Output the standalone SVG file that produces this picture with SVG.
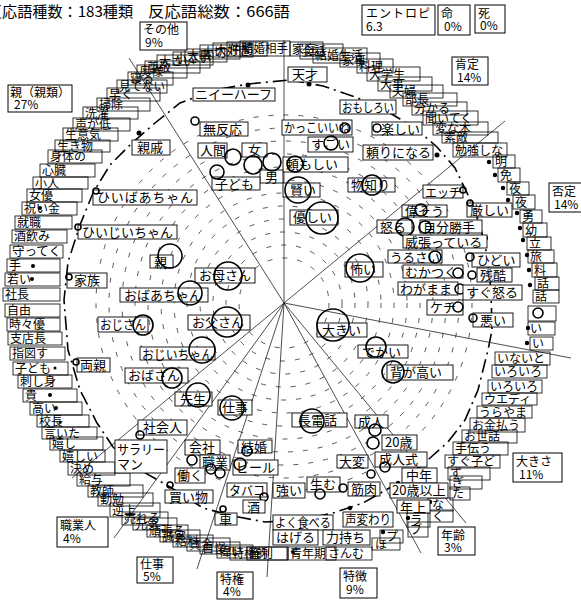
<svg xmlns="http://www.w3.org/2000/svg" width="581" height="603" viewBox="0 0 581 603">
<style>
.t{font-family:"Noto Sans CJK JP","Noto Sans",sans-serif;font-size:13px;fill:#000}
.s{font-size:12px}
.rb{fill:none;stroke:#000;stroke-width:0.8}
.ib{fill:#fff;stroke:#000;stroke-width:0.9}
.cb{fill:#fff;stroke:#000;stroke-width:1}
.mk{fill:none;stroke:#000;stroke-width:1.6}
.dt{fill:#000}
.hz{fill:none;stroke:#444;stroke-width:0.9;stroke-dasharray:5 10}
.rl{stroke:#222;stroke-width:0.8;fill:none}
.dc{fill:none;stroke:#000;stroke-width:1.6;stroke-dasharray:14 5 2 5}
</style>
<rect width="581" height="603" fill="#fff"/>
<text class="t" x="-13" y="17" textLength="146" lengthAdjust="spacingAndGlyphs" style="font-size:15px">反応語種数：183種類</text>
<text class="t" x="148" y="17" textLength="142" lengthAdjust="spacingAndGlyphs" style="font-size:15px">反応語総数：666語</text>

<g id="hatching">
<circle class="hz" cx="284" cy="303" r="45"/>
<circle class="hz" cx="284" cy="303" r="58"/>
<circle class="hz" cx="284" cy="303" r="71"/>
<circle class="hz" cx="284" cy="303" r="84"/>
<circle class="hz" cx="284" cy="303" r="97"/>
<circle class="hz" cx="284" cy="303" r="110"/>
<circle class="hz" cx="284" cy="303" r="123"/>
<circle class="hz" cx="284" cy="303" r="136"/>
<circle class="hz" cx="284" cy="303" r="149"/>
<circle class="hz" cx="284" cy="303" r="162"/>
<circle class="hz" cx="284" cy="303" r="175"/>
<circle class="hz" cx="284" cy="303" r="188"/>
</g>

<g id="connectors">
<line class="rl" x1="284" y1="303" x2="284" y2="40"/>
<line class="rl" x1="284" y1="303" x2="505" y2="121"/>
<line class="rl" x1="284" y1="303" x2="571" y2="358"/>
<line class="rl" x1="284" y1="303" x2="466" y2="523"/>
<line class="rl" x1="284" y1="303" x2="421" y2="553"/>
<line class="rl" x1="284" y1="303" x2="267" y2="577"/>
<line class="rl" x1="284" y1="303" x2="197" y2="569"/>
<line class="rl" x1="284" y1="303" x2="114" y2="538"/>
<line class="rl" x1="284" y1="303" x2="72" y2="478"/>
<line class="rl" x1="284" y1="303" x2="129" y2="58"/>
<polyline class="dc" points="290,80 323,86 358,98 390,113 415,128 437,147 455,168 468,195 480,225 487,255 491,290 492,330 488,350 478,390 465,420 448,442 430,458 400,482 363,503 333,513 300,520 265,522 233,516 203,508 170,487 140,470 113,447 97,423 80,390 68,350 64,300 68,262 80,225 93,193 110,165 132,143 155,123 180,103 215,90 248,84 290,80"/>
</g>

<g id="ring" class="t s">
<g id="r01"><rect class="rb" x="288" y="547" width="48" height="13"/><text class="t s" x="290" y="558">青年期</text></g>
<g id="r02"><rect class="rb" x="326" y="547" width="46" height="13"/><text class="t s" x="328" y="558">さんむ</text></g>
<g id="r03"><rect class="rb" x="230" y="547" width="58" height="13"/><text class="t s" x="232" y="558">特権的</text></g>
<g id="r04"><rect class="rb" x="247" y="547" width="40" height="13"/><text class="t s" x="249" y="558">権利</text></g>
<g id="r05"><rect class="rb" x="217" y="545" width="36" height="13"/><text class="t s" x="219" y="556">偉い</text></g>
<g id="r06"><rect class="rb" x="200" y="542" width="40" height="12"/><text class="t s" x="202" y="553">自慢</text></g>
<g id="r07"><rect class="rb" x="187" y="538" width="43" height="13"/><text class="t s" x="189" y="549">賃金</text></g>
<g id="r08"><rect class="rb" x="173" y="535" width="40" height="12"/><text class="t s" x="175" y="546">給料</text></g>
<g id="r09"><rect class="rb" x="160" y="530" width="40" height="12"/><text class="t s" x="162" y="541">誠実</text></g>
<g id="r10"><rect class="rb" x="147" y="525" width="41" height="12"/><text class="t s" x="149" y="536">頑張る</text></g>
<g id="r11"><rect class="rb" x="133" y="518" width="44" height="12"/><text class="t s" x="135" y="529">元気</text></g>
<g id="r12"><rect class="rb" x="122" y="512" width="46" height="13"/><text class="t s" x="124" y="523">売れる</text></g>
<g id="r13"><rect class="rb" x="110" y="503" width="50" height="14"/><text class="t s" x="112" y="515">逆上</text></g>
<g id="r14"><rect class="rb" x="98" y="493" width="55" height="13"/><text class="t s" x="100" y="504">勤勉</text></g>
<g id="r15"><rect class="rb" x="88" y="485" width="55" height="12"/><text class="t s" x="90" y="496">教師</text></g>
<g id="r16"><rect class="rb" x="77" y="473" width="53" height="13"/><text class="t s" x="79" y="484">給与</text></g>
<g id="r17"><rect class="rb" x="68" y="462" width="47" height="13"/><text class="t s" x="70" y="473">決め</text></g>
<g id="r18"><rect class="rb" x="60" y="450" width="45" height="12"/><text class="t s" x="62" y="461">嬉しい</text></g>
<g id="r19"><rect class="rb" x="50" y="437" width="53" height="13"/><text class="t s" x="52" y="448">嬉し</text></g>
<g id="r20"><rect class="rb" x="42" y="427" width="55" height="12"/><text class="t s" x="44" y="438">言いた</text></g>
<g id="r21"><rect class="rb" x="37" y="415" width="52" height="12"/><text class="t s" x="39" y="426">校長</text></g>
<g id="r22"><rect class="rb" x="30" y="402" width="52" height="13"/><text class="t s" x="32" y="413">高い</text></g>
<g id="r23"><rect class="rb" x="23" y="389" width="54" height="13"/><text class="t s" x="25" y="400">貴</text></g>
<g id="r24"><rect class="rb" x="18" y="375" width="54" height="13"/><text class="t s" x="20" y="386">刺し身</text></g>
<g id="r25"><rect class="rb" x="13" y="362" width="55" height="13"/><text class="t s" x="15" y="373">子ども</text></g>
<g id="r26"><rect class="rb" x="10" y="347" width="55" height="13"/><text class="t s" x="12" y="358">指図す</text></g>
<g id="r27"><rect class="rb" x="8" y="332" width="54" height="13"/><text class="t s" x="10" y="343">支店長</text></g>
<g id="r28"><rect class="rb" x="7" y="318" width="53" height="13"/><text class="t s" x="9" y="329">時々優</text></g>
<g id="r29"><rect class="rb" x="5" y="304" width="55" height="13"/><text class="t s" x="7" y="315">自由</text></g>
<g id="r30"><rect class="rb" x="3" y="288" width="57" height="13"/><text class="t s" x="5" y="299">社長</text></g>
<g id="r31"><rect class="rb" x="5" y="273" width="55" height="13"/><text class="t s" x="7" y="284">若い</text></g>
<g id="r32"><rect class="rb" x="7" y="259" width="53" height="13"/><text class="t s" x="9" y="270">手</text></g>
<g id="r33"><rect class="rb" x="10" y="245" width="53" height="13"/><text class="t s" x="12" y="256" textLength="49" lengthAdjust="spacingAndGlyphs">守ってく</text></g>
<g id="r34"><rect class="rb" x="12" y="230" width="55" height="13"/><text class="t s" x="14" y="241">酒飲み</text></g>
<g id="r35"><rect class="rb" x="15" y="216" width="57" height="13"/><text class="t s" x="17" y="227">就職</text></g>
<g id="r36"><rect class="rb" x="22" y="202" width="55" height="13"/><text class="t s" x="24" y="213">祝い金</text></g>
<g id="r37"><rect class="rb" x="27" y="189" width="55" height="13"/><text class="t s" x="29" y="200">女優</text></g>
<g id="r38"><rect class="rb" x="33" y="177" width="55" height="12"/><text class="t s" x="35" y="188">小人</text></g>
<g id="r39"><rect class="rb" x="40" y="164" width="55" height="13"/><text class="t s" x="42" y="175">心臓</text></g>
<g id="r40"><rect class="rb" x="48" y="150" width="54" height="13"/><text class="t s" x="50" y="161">身体の</text></g>
<g id="r41"><rect class="rb" x="55" y="140" width="55" height="12"/><text class="t s" x="57" y="151">生き物</text></g>
<g id="r42"><rect class="rb" x="63" y="128" width="55" height="13"/><text class="t s" x="65" y="139">生意気</text></g>
<g id="r43"><rect class="rb" x="73" y="118" width="57" height="13"/><text class="t s" x="75" y="129">声が低</text></g>
<g id="r44"><rect class="rb" x="83" y="107" width="55" height="12"/><text class="t s" x="85" y="118">洗濯</text></g>
<g id="r45"><rect class="rb" x="97" y="98" width="53" height="13"/><text class="t s" x="99" y="109">掃除</text></g>
<g id="r46"><rect class="rb" x="107" y="88" width="53" height="13"/><text class="t s" x="109" y="99">早く</text></g>
<g id="r47"><rect class="rb" x="117" y="80" width="50" height="13"/><text class="t s" x="119" y="91" textLength="46" lengthAdjust="spacingAndGlyphs">見てない</text></g>
<g id="r48"><rect class="rb" x="128" y="72" width="45" height="13"/><text class="t s" x="130" y="83">寝る</text></g>
<g id="r49"><rect class="rb" x="137" y="65" width="50" height="13"/><text class="t s" x="139" y="76">奥様</text></g>
<g id="r50"><rect class="rb" x="145" y="61" width="55" height="12"/><text class="t s" x="147" y="72">尊敬</text></g>
<g id="r51"><rect class="rb" x="157" y="55" width="53" height="13"/><text class="t s" x="159" y="66">大さい</text></g>
<g id="r52"><rect class="rb" x="173" y="52" width="40" height="13"/><text class="t s" x="175" y="63">小さい</text></g>
<g id="r53"><rect class="rb" x="185" y="49" width="42" height="13"/><text class="t s" x="187" y="60">大事</text></g>
<g id="r54"><rect class="rb" x="200" y="45" width="40" height="14"/><text class="t s" x="202" y="57">大切</text></g>
<g id="r55"><rect class="rb" x="213" y="43" width="40" height="14"/><text class="t s" x="215" y="55">大好き</text></g>
<g id="r56"><rect class="rb" x="227" y="42" width="40" height="14"/><text class="t s" x="229" y="54">仲間</text></g>
<g id="r57"><rect class="rb" x="240" y="41" width="50" height="15"/><text class="t s" x="242" y="53" textLength="46" lengthAdjust="spacingAndGlyphs">結婚相手</text></g>
<g id="r58"><rect class="rb" x="290" y="42" width="33" height="14"/><text class="t s" x="292" y="54">家庭</text></g>
<g id="r59"><rect class="rb" x="300" y="44" width="43" height="15"/><text class="t s" x="302" y="56">会話</text></g>
<g id="r60"><rect class="rb" x="313" y="48" width="54" height="15"/><text class="t s" x="315" y="60">結婚生活</text></g>
<g id="r61"><rect class="rb" x="340" y="53" width="40" height="14"/><text class="t s" x="342" y="65">家事</text></g>
<g id="r62"><rect class="rb" x="357" y="59" width="36" height="14"/><text class="t s" x="359" y="71">料理</text></g>
<g id="r63"><rect class="rb" x="367" y="67" width="53" height="14"/><text class="t s" x="369" y="79">大学生</text></g>
<g id="r64"><rect class="rb" x="378" y="77" width="54" height="14"/><text class="t s" x="380" y="89">大事</text></g>
<g id="r65"><rect class="rb" x="390" y="85" width="53" height="13"/><text class="t s" x="392" y="96">夫婦</text></g>
<g id="r66"><rect class="rb" x="403" y="93" width="54" height="13"/><text class="t s" x="405" y="104">部長</text></g>
<g id="r67"><rect class="rb" x="412" y="102" width="55" height="13"/><text class="t s" x="414" y="113">分かる</text></g>
<g id="r68"><rect class="rb" x="423" y="111" width="55" height="14"/><text class="t s" x="425" y="123">聞いてく</text></g>
<g id="r69"><rect class="rb" x="433" y="122" width="55" height="13"/><text class="t s" x="435" y="133">変な本</text></g>
<g id="r70"><rect class="rb" x="442" y="132" width="56" height="11"/><text class="t s" x="444" y="142">素敵</text></g>
<g id="r71"><rect class="rb" x="453" y="143" width="54" height="14"/><text class="t s" x="455" y="155">勉強しな</text></g>
<g id="r72"><rect class="rb" x="493" y="155" width="22" height="13"/><text class="t s" x="495" y="166">明</text></g>
<g id="r73"><rect class="rb" x="498" y="168" width="22" height="14"/><text class="t s" x="500" y="180">免</text></g>
<g id="r74"><rect class="rb" x="507" y="182" width="22" height="13"/><text class="t s" x="509" y="193">夜</text></g>
<g id="r75"><rect class="rb" x="513" y="195" width="22" height="14"/><text class="t s" x="515" y="207">夜</text></g>
<g id="r76"><rect class="rb" x="520" y="210" width="22" height="13"/><text class="t s" x="522" y="221">勇</text></g>
<g id="r77"><rect class="rb" x="523" y="223" width="24" height="14"/><text class="t s" x="525" y="235">幼</text></g>
<g id="r78"><rect class="rb" x="527" y="237" width="24" height="13"/><text class="t s" x="529" y="248">立</text></g>
<g id="r79"><rect class="rb" x="528" y="250" width="26" height="13"/><text class="t s" x="530" y="261">旅</text></g>
<g id="r80"><rect class="rb" x="532" y="263" width="25" height="14"/><text class="t s" x="534" y="275">料</text></g>
<g id="r81"><rect class="rb" x="535" y="277" width="24" height="13"/><text class="t s" x="537" y="288">話</text></g>
<g id="r82"><rect class="rb" x="533" y="290" width="26" height="13"/><text class="t s" x="535" y="301">話</text></g>
<g id="r83"><rect class="rb" x="528" y="306" width="28" height="15"/><circle class="mk" cx="538" cy="313" r="5"/></g>
<g id="r84"><rect class="rb" x="528" y="322" width="27" height="13"/><text class="t s" x="530" y="333">い</text></g>
<g id="r85"><rect class="rb" x="530" y="337" width="23" height="13"/><text class="t s" x="532" y="348">い</text></g>
<g id="r86"><rect class="rb" x="495" y="352" width="55" height="13"/><text class="t s" x="497" y="363">いないと</text></g>
<g id="r87"><rect class="rb" x="492" y="365" width="55" height="13"/><text class="t s" x="494" y="376">いろいろ</text></g>
<g id="r88"><rect class="rb" x="488" y="380" width="54" height="13"/><text class="t s" x="490" y="391">いろいろ</text></g>
<g id="r89"><rect class="rb" x="482" y="393" width="55" height="12"/><text class="t s" x="484" y="404">ウエディ</text></g>
<g id="r90"><rect class="rb" x="477" y="406" width="55" height="12"/><text class="t s" x="479" y="417">うらやま</text></g>
<g id="r91"><rect class="rb" x="470" y="418" width="55" height="14"/><text class="t s" x="472" y="430">お金払う</text></g>
<g id="r92"><rect class="rb" x="462" y="430" width="55" height="13"/><text class="t s" x="464" y="441">お世話</text></g>
<g id="r93"><rect class="rb" x="453" y="442" width="55" height="13"/><text class="t s" x="455" y="453">手伝う</text></g>
<g id="r94"><rect class="rb" x="445" y="455" width="55" height="13"/><text class="t s" x="447" y="466">すぐ子ど</text></g>
<g id="r95"><rect class="rb" x="448" y="467" width="42" height="13"/><text class="t s" x="450" y="478">ず</text></g>
<g id="r96"><rect class="rb" x="450" y="476" width="32" height="13"/><text class="t s" x="452" y="487">ぎ</text></g>
<g id="r97"><rect class="rb" x="450" y="487" width="20" height="13"/><text class="t s" x="452" y="498">た</text></g>
<g id="r98"><rect class="rb" x="428" y="498" width="25" height="13"/><text class="t s" x="432" y="509">な</text></g>
<g id="r99"><rect class="rb" x="428" y="510" width="25" height="12"/><text class="t s" x="432" y="521">く</text></g>
<g id="r100"><rect class="rb" x="407" y="513" width="23" height="14"/><text class="t s" x="410" y="525">ラ</text></g>
<g id="r101"><rect class="rb" x="408" y="522" width="20" height="15"/><text class="t s" x="410" y="534">ブ</text></g>
<g id="r102"><rect class="rb" x="380" y="530" width="23" height="13"/><text class="t s" x="386" y="541">プ</text></g>
<g id="r103"><rect class="rb" x="372" y="538" width="28" height="12"/><text class="t s" x="375" y="549">ほ</text></g>
</g>

<g id="ring-dots">
<circle class="dt" cx="40" cy="208" r="2"/><circle class="dt" cx="33" cy="266" r="2"/><circle class="dt" cx="32" cy="279" r="2"/>
<circle class="dt" cx="55" cy="368" r="1.5"/><circle class="dt" cx="50" cy="395" r="2"/><circle class="dt" cx="56" cy="408" r="2"/>
<circle class="dt" cx="60" cy="422" r="1.5"/><circle class="dt" cx="489" cy="162" r="2.2"/><circle class="dt" cx="495" cy="175" r="2.2"/>
<circle class="dt" cx="503" cy="188" r="2.2"/><circle class="dt" cx="508" cy="200" r="2.2"/><circle class="dt" cx="517" cy="213" r="2.2"/>
<circle class="dt" cx="520" cy="228" r="2.2"/><circle class="dt" cx="523" cy="240" r="2.2"/><circle class="dt" cx="527" cy="255" r="2.2"/>
<circle class="dt" cx="529" cy="270" r="2.2"/><circle class="dt" cx="530" cy="285" r="2.2"/><circle class="dt" cx="528" cy="328" r="2.2"/>
<circle class="dt" cx="527" cy="343" r="2.2"/><circle class="dt" cx="430" cy="502" r="2.2"/><circle class="dt" cx="408" cy="518" r="2.2"/>
<circle class="dt" cx="383" cy="532" r="2.2"/><circle class="dt" cx="368" cy="538" r="2.2"/><circle class="dt" cx="350" cy="508" r="2.2"/>
<circle class="dt" cx="398" cy="483" r="2.2"/><circle class="dt" cx="248" cy="85" r="2.5"/><circle class="dt" cx="309" cy="84" r="2.5"/>
<circle class="dt" cx="437" cy="155" r="2.5"/><circle class="dt" cx="486" cy="238" r="2.2"/><circle class="dt" cx="293" cy="552" r="2"/>
</g>

<g id="inner">
<g id="w01"><rect class="ib" x="193" y="88" width="82" height="13"/><text class="t" x="195" y="99">ニイーハーフ</text></g>
<g id="w02"><rect class="ib" x="200" y="122" width="48" height="14"/><text class="t" x="203" y="134">無反応</text><circle class="mk" cx="195" cy="121" r="4"/></g>
<g id="w03"><rect class="ib" x="288" y="67" width="39" height="15"/><text class="t" x="292" y="79">天才</text></g>
<g id="w04"><rect class="ib" x="282" y="120" width="70" height="15"/><text class="t" x="284" y="132" textLength="66" lengthAdjust="spacingAndGlyphs">かっこいいね</text><circle class="mk" cx="345" cy="128" r="5"/></g>
<g id="w05"><rect class="ib" x="308" y="137" width="45" height="15"/><text class="t" x="311" y="149">すごい</text><circle class="mk" cx="331" cy="143" r="7"/></g>
<g id="w06"><rect class="ib" x="283" y="157" width="65" height="15"/><text class="t" x="286" y="169">頼もしい</text><circle class="mk" cx="295" cy="164" r="8"/></g>
<g id="w07"><rect class="ib" x="198" y="143" width="29" height="15"/><text class="t" x="200" y="155">人間</text></g>
<g id="w08"><rect class="ib" x="242" y="143" width="25" height="14"/><text class="t" x="248" y="155">女</text></g>
<g id="w09"><rect class="ib" x="260" y="170" width="23" height="13"/><text class="t" x="265" y="182">男</text></g>
<g id="w10"><rect class="ib" x="212" y="177" width="48" height="13"/><text class="t" x="215" y="189">子ども</text></g>
<g id="w10m"><circle class="mk" cx="233" cy="157" r="8"/><circle class="mk" cx="253" cy="165" r="9"/><circle class="mk" cx="272" cy="162" r="9"/><circle class="mk" cx="217" cy="172" r="7"/></g>
<g id="w11"><rect class="ib" x="132" y="140" width="38" height="15"/><text class="t" x="137" y="152">親戚</text><circle class="dt" cx="139" cy="133" r="2.5"/></g>
<g id="w12"><rect class="ib" x="93" y="190" width="104" height="15"/><text class="t" x="97" y="202" textLength="96" lengthAdjust="spacing">ひいばあちゃん</text><circle class="mk" cx="96" cy="191" r="3"/></g>
<g id="w13"><rect class="ib" x="78" y="225" width="99" height="14"/><text class="t" x="82" y="237">ひいじいちゃん</text><circle class="mk" cx="78" cy="227" r="3"/></g>
<g id="w14"><rect class="ib" x="150" y="255" width="23" height="13"/><text class="t" x="154" y="267">親</text><circle class="mk" cx="170" cy="256" r="12"/></g>
<g id="w15"><rect class="ib" x="195" y="268" width="60" height="15"/><text class="t" x="199" y="280">お母さん</text><circle class="mk" cx="228" cy="276" r="14"/></g>
<g id="w16"><rect class="ib" x="67" y="273" width="40" height="15"/><text class="t" x="74" y="285">家族</text><circle class="mk" cx="69" cy="277" r="3"/></g>
<g id="w17"><rect class="ib" x="120" y="288" width="88" height="14"/><text class="t" x="124" y="300">おばあちゃん</text><circle class="mk" cx="190" cy="293" r="12"/></g>
<g id="w18"><rect class="ib" x="98" y="317" width="50" height="15"/><text class="t" x="100" y="329" textLength="46" lengthAdjust="spacingAndGlyphs">おじさん</text><circle class="mk" cx="143" cy="325" r="10"/></g>
<g id="w19"><rect class="ib" x="188" y="315" width="62" height="15"/><text class="t" x="192" y="327">お父さん</text><circle class="mk" cx="227" cy="322" r="15"/></g>
<g id="w20"><rect class="ib" x="140" y="347" width="75" height="13"/><text class="t" x="142" y="359" textLength="71" lengthAdjust="spacingAndGlyphs">おじいちゃん</text><circle class="mk" cx="202" cy="350" r="13"/></g>
<g id="w21"><rect class="ib" x="77" y="358" width="33" height="14"/><text class="t" x="80" y="370">両親</text><circle class="mk" cx="76" cy="362" r="3"/></g>
<g id="w22"><rect class="ib" x="125" y="368" width="63" height="15"/><text class="t" x="128" y="380">おばさん</text><circle class="mk" cx="172" cy="378" r="10"/></g>
<g id="w23"><rect class="ib" x="175" y="392" width="37" height="14"/><text class="t" x="180" y="404">先生</text><circle class="mk" cx="198" cy="395" r="12"/></g>
<g id="w24"><rect class="ib" x="218" y="400" width="34" height="15"/><text class="t" x="222" y="412">仕事</text><circle class="mk" cx="232" cy="408" r="12"/></g>
<g id="w25"><rect class="ib" x="138" y="420" width="49" height="15"/><text class="t" x="143" y="432">社会人</text><circle class="mk" cx="140" cy="435" r="4"/></g>
<g id="w26"><rect class="ib" x="115" y="440" width="52" height="33"/><text class="t" x="117" y="454" textLength="48" lengthAdjust="spacingAndGlyphs">サラリー</text><text class="t" x="117" y="469">マン</text></g>
<g id="w27"><rect class="ib" x="185" y="440" width="35" height="15"/><text class="t" x="189" y="452">会社</text></g>
<g id="w28"><rect class="ib" x="238" y="440" width="34" height="13"/><text class="t" x="241" y="452">結婚</text><circle class="mk" cx="247" cy="451" r="5"/></g>
<g id="w29"><rect class="ib" x="200" y="455" width="30" height="15"/><text class="t" x="202" y="467">職業</text><circle class="mk" cx="192" cy="460" r="5"/><circle class="mk" cx="211" cy="469" r="5"/><circle class="mk" cx="220" cy="473" r="5"/></g>
<g id="w30"><rect class="ib" x="233" y="460" width="45" height="15"/><text class="t" x="236" y="472">ビール</text><circle class="mk" cx="240" cy="464" r="6"/></g>
<g id="w31"><rect class="ib" x="175" y="468" width="30" height="15"/><text class="t" x="177" y="480">働く</text></g>
<g id="w32"><rect class="ib" x="227" y="483" width="40" height="14"/><text class="t" x="229" y="495" textLength="36" lengthAdjust="spacingAndGlyphs">タバコ</text><circle class="mk" cx="264" cy="497" r="4"/></g>
<g id="w33"><rect class="ib" x="273" y="483" width="32" height="15"/><text class="t" x="276" y="495">強い</text></g>
<g id="w34"><rect class="ib" x="307" y="477" width="33" height="15"/><text class="t" x="310" y="489">生む</text><circle class="mk" cx="320" cy="494" r="5"/></g>
<g id="w35"><rect class="ib" x="348" y="482" width="32" height="14"/><text class="t" x="351" y="494">筋肉</text><circle class="mk" cx="343" cy="488" r="4"/></g>
<g id="w36"><rect class="ib" x="165" y="490" width="48" height="13"/><text class="t" x="169" y="502">買い物</text><circle class="mk" cx="170" cy="485" r="3"/></g>
<g id="w37"><rect class="ib" x="243" y="500" width="22" height="13"/><text class="t" x="247" y="512">酒</text></g>
<g id="w38"><rect class="ib" x="215" y="513" width="22" height="12"/><text class="t" x="219" y="524">車</text><circle class="mk" cx="223" cy="509" r="3"/></g>
<g id="w39"><rect class="ib" x="273" y="515" width="60" height="15"/><text class="t" x="275" y="527" textLength="56" lengthAdjust="spacingAndGlyphs">よく食べる</text></g>
<g id="w40"><rect class="ib" x="273" y="530" width="45" height="15"/><text class="t" x="276" y="542">はげる</text></g>
<g id="w41"><rect class="ib" x="323" y="530" width="47" height="15"/><text class="t" x="326" y="542">力持ち</text></g>
<g id="w42"><rect class="ib" x="343" y="512" width="50" height="15"/><text class="t" x="345" y="524" textLength="46" lengthAdjust="spacingAndGlyphs">声変わり</text></g>
<g id="w43"><rect class="ib" x="292" y="413" width="55" height="14"/><text class="t" x="298" y="425">長電話</text><circle class="mk" cx="312" cy="421" r="12"/></g>
<g id="w44"><rect class="ib" x="355" y="415" width="33" height="13"/><text class="t" x="358" y="427">成人</text><circle class="mk" cx="375" cy="430" r="6"/><circle class="mk" cx="373" cy="443" r="6"/></g>
<g id="w45"><rect class="ib" x="382" y="435" width="35" height="15"/><text class="t" x="385" y="447">20歳</text></g>
<g id="w46"><rect class="ib" x="337" y="455" width="31" height="13"/><text class="t" x="339" y="467">大変</text><circle class="mk" cx="371" cy="474" r="4"/></g>
<g id="w47"><rect class="ib" x="375" y="452" width="52" height="15"/><text class="t" x="379" y="464">成人式</text><circle class="mk" cx="385" cy="467" r="5"/></g>
<g id="w48"><rect class="ib" x="402" y="468" width="35" height="15"/><text class="t" x="406" y="480">中年</text></g>
<g id="w49"><rect class="ib" x="390" y="483" width="58" height="15"/><text class="t" x="392" y="495">20歳以上</text></g>
<g id="w50"><rect class="ib" x="397" y="500" width="33" height="13"/><text class="t" x="400" y="512">年上</text></g>
<g id="w51"><rect class="ib" x="317" y="323" width="50" height="14"/><text class="t" x="322" y="335">大きい</text><circle class="mk" cx="333" cy="325" r="16"/></g>
<g id="w52"><rect class="ib" x="358" y="345" width="50" height="13"/><text class="t" x="362" y="357">でかい</text><circle class="mk" cx="376" cy="347" r="10"/></g>
<g id="w53"><rect class="ib" x="387" y="365" width="66" height="15"/><text class="t" x="390" y="377">背が高い</text><circle class="mk" cx="393" cy="372" r="11"/></g>
<g id="w54"><rect class="ib" x="427" y="300" width="36" height="15"/><text class="t" x="430" y="312">ケチ</text><circle class="mk" cx="458" cy="307" r="5"/></g>
<g id="w55"><rect class="ib" x="473" y="313" width="40" height="14"/><text class="t" x="480" y="325">悪い</text><circle class="mk" cx="473" cy="318" r="4"/></g>
<g id="w56"><rect class="ib" x="363" y="145" width="70" height="15"/><text class="t" x="366" y="157">頼りになる</text></g>
<g id="w57"><rect class="ib" x="348" y="178" width="47" height="14"/><text class="t" x="351" y="190">物知り</text><circle class="mk" cx="372" cy="185" r="10"/></g>
<g id="w58"><rect class="ib" x="423" y="185" width="40" height="13"/><text class="t" x="425" y="197" textLength="36" lengthAdjust="spacingAndGlyphs">エッチ</text><circle class="mk" cx="463" cy="190" r="3"/></g>
<g id="w59"><rect class="ib" x="402" y="205" width="45" height="12"/><text class="t" x="405" y="216">偉そう</text><circle class="mk" cx="421" cy="210" r="6"/></g>
<g id="w60"><rect class="ib" x="467" y="203" width="45" height="14"/><text class="t" x="470" y="215">厳しい</text><circle class="mk" cx="470" cy="203" r="3"/></g>
<g id="w61"><rect class="ib" x="420" y="220" width="62" height="13"/><text class="t" x="423" y="232">自分勝手</text><circle class="mk" cx="425" cy="227" r="6"/></g>
<g id="w62"><rect class="ib" x="377" y="220" width="35" height="13"/><text class="t" x="380" y="232">怒る</text><circle class="mk" cx="405" cy="227" r="9"/></g>
<g id="w63"><rect class="ib" x="403" y="235" width="84" height="13"/><text class="t" x="405" y="247">威張っている</text></g>
<g id="w64"><rect class="ib" x="388" y="250" width="54" height="13"/><text class="t" x="390" y="262" textLength="50" lengthAdjust="spacingAndGlyphs">うるさい</text><circle class="mk" cx="435" cy="257" r="6"/></g>
<g id="w65"><rect class="ib" x="472" y="253" width="48" height="14"/><text class="t" x="477" y="265">ひどい</text><circle class="mk" cx="470" cy="257" r="4"/></g>
<g id="w66"><rect class="ib" x="345" y="262" width="38" height="15"/><text class="t" x="350" y="274">怖い</text><circle class="mk" cx="360" cy="268" r="14"/></g>
<g id="w67"><rect class="ib" x="403" y="265" width="60" height="13"/><text class="t" x="405" y="277">むかつく</text><circle class="mk" cx="458" cy="273" r="5"/></g>
<g id="w68"><rect class="ib" x="477" y="268" width="35" height="14"/><text class="t" x="480" y="280">残酷</text><circle class="mk" cx="472" cy="275" r="4"/></g>
<g id="w69"><rect class="ib" x="398" y="282" width="60" height="13"/><text class="t" x="400" y="294">わがまま</text><circle class="mk" cx="460" cy="289" r="5"/></g>
<g id="w70"><rect class="ib" x="463" y="285" width="59" height="15"/><text class="t" x="466" y="297">すぐ怒る</text></g>
<g id="w71"><rect class="ib" x="290" y="210" width="48" height="15"/><text class="t" x="293" y="222">優しい</text><circle class="mk" cx="322" cy="218" r="16"/></g>
<g id="w72"><rect class="ib" x="283" y="183" width="37" height="14"/><text class="t" x="290" y="195">賢い</text><circle class="mk" cx="298" cy="190" r="13"/></g>
<g id="w73"><rect class="ib" x="340" y="100" width="56" height="14"/><text class="t" x="342" y="112" textLength="52" lengthAdjust="spacingAndGlyphs">おもしろい</text></g>
<g id="w74"><rect class="ib" x="372" y="122" width="50" height="13"/><text class="t" x="381" y="134">楽しい</text><circle class="mk" cx="377" cy="128" r="4"/></g>
</g>

<g id="categories">
<g id="c-sonota"><rect class="cb" x="140" y="22" width="47" height="28"/><text class="t" x="143" y="34" style="font-size:12px">その他</text><text class="t" x="145" y="47" style="font-size:12px">9%</text></g>
<g id="c-oya"><rect class="cb" x="8" y="85" width="64" height="27"/><text class="t" x="10" y="97" style="font-size:12px" textLength="60" lengthAdjust="spacingAndGlyphs">親（親類）</text><text class="t" x="14" y="109" style="font-size:12px">27%</text></g>
<g id="c-entropy"><rect class="cb" x="362" y="5" width="73" height="30"/><text class="t" x="366" y="18" style="font-size:12px" textLength="64" lengthAdjust="spacing">エントロピ</text><text class="t" x="366" y="31" style="font-size:12px">6.3</text></g>
<g id="c-inochi"><rect class="cb" x="438" y="5" width="32" height="30"/><text class="t" x="441" y="18" style="font-size:12px">命</text><text class="t" x="444" y="31" style="font-size:12px">0%</text></g>
<g id="c-shi"><rect class="cb" x="475" y="5" width="30" height="28"/><text class="t" x="478" y="18" style="font-size:12px">死</text><text class="t" x="480" y="30" style="font-size:12px">0%</text></g>
<g id="c-kotei"><rect class="cb" x="452" y="57" width="36" height="28"/><text class="t" x="455" y="69" style="font-size:12px">肯定</text><text class="t" x="457" y="82" style="font-size:12px">14%</text></g>
<g id="c-hitei"><rect class="cb" x="549" y="183" width="40" height="29"/><text class="t" x="552" y="196" style="font-size:12px">否定</text><text class="t" x="554" y="209" style="font-size:12px">14%</text></g>
<g id="c-ookisa"><rect class="cb" x="513" y="453" width="49" height="29"/><text class="t" x="516" y="466" style="font-size:12px">大きさ</text><text class="t" x="519" y="479" style="font-size:12px">11%</text></g>
<g id="c-nenrei"><rect class="cb" x="438" y="527" width="37" height="28"/><text class="t" x="441" y="540" style="font-size:12px">年齢</text><text class="t" x="444" y="552" style="font-size:12px">3%</text></g>
<g id="c-tokucho"><rect class="cb" x="340" y="568" width="37" height="30"/><text class="t" x="343" y="581" style="font-size:12px">特徴</text><text class="t" x="346" y="594" style="font-size:12px">9%</text></g>
<g id="c-tokken"><rect class="cb" x="217" y="572" width="36" height="27"/><text class="t" x="220" y="584" style="font-size:12px">特権</text><text class="t" x="223" y="596" style="font-size:12px">4%</text></g>
<g id="c-shigoto"><rect class="cb" x="137" y="557" width="36" height="26"/><text class="t" x="140" y="569" style="font-size:12px">仕事</text><text class="t" x="143" y="581" style="font-size:12px">5%</text></g>
<g id="c-shokugyo"><rect class="cb" x="57" y="517" width="51" height="30"/><text class="t" x="60" y="530" style="font-size:12px">職業人</text><text class="t" x="63" y="543" style="font-size:12px">4%</text></g>
</g>
</svg>
